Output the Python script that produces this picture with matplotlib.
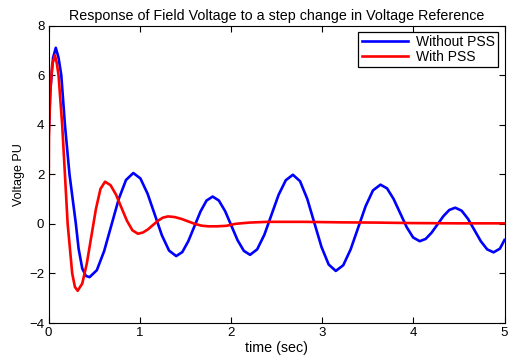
import matplotlib
matplotlib.use("Agg")
import matplotlib.pyplot as plt

plt.rcParams['font.family'] = ['Liberation Sans', 'DejaVu Sans']

title = "Response of Field Voltage to a step change in Voltage Reference"
xlabel = "time (sec)"
ylabel = "Voltage PU"
series_names = ["Without PSS", "With PSS"]

t_without = [0.0, 0.02, 0.05, 0.08, 0.11, 0.14, 0.18, 0.23, 0.265, 0.30, 0.33, 0.37, 0.41, 0.45,
             0.53, 0.61, 0.69, 0.77, 0.85, 0.93,
             1.008, 1.087, 1.165, 1.243, 1.322, 1.40,
             1.467, 1.533, 1.60, 1.667, 1.733, 1.80,
             1.868, 1.937, 2.005, 2.073, 2.142, 2.21,
             2.288, 2.367, 2.445, 2.523, 2.602, 2.68,
             2.758, 2.837, 2.915, 2.993, 3.072, 3.15,
             3.232, 3.313, 3.395, 3.477, 3.558, 3.64,
             3.712, 3.783, 3.855, 3.927, 3.998, 4.07,
             4.135, 4.20, 4.265, 4.33, 4.395, 4.46,
             4.53, 4.60, 4.67, 4.74, 4.81, 4.88,
             4.95, 5.0]
v_without = [3.5, 5.4, 6.7, 7.1, 6.7, 6.0, 4.0, 2.0, 1.0, 0.0, -1.0, -1.8, -2.1, -2.15,
             -1.87, -1.10, -0.05, 1.00, 1.77, 2.05,
             1.83, 1.21, 0.375, -0.46, -1.08, -1.3,
             -1.14, -0.70, -0.1, 0.5, 0.94, 1.1,
             0.94, 0.51, -0.075, -0.66, -1.09, -1.25,
             -1.03, -0.44, 0.365, 1.17, 1.76, 1.98,
             1.72, 1.01, 0.04, -0.93, -1.64, -1.9,
             -1.67, -1.03, -0.16, 0.71, 1.35, 1.58,
             1.43, 1.01, 0.44, -0.13, -0.55, -0.7,
             -0.61, -0.36, -0.025, 0.31, 0.56, 0.65,
             0.53, 0.20, -0.25, -0.70, -1.03, -1.15,
             -1.0, -0.65]

t_with = [0.0, 0.005, 0.02, 0.04, 0.07, 0.09, 0.11, 0.15, 0.18, 0.21, 0.26, 0.29, 0.32,
          0.37, 0.42, 0.47, 0.52, 0.57, 0.62,
          0.68, 0.74, 0.80, 0.86, 0.92, 0.98,
          1.035, 1.09, 1.145, 1.20, 1.255, 1.31,
          1.383, 1.457, 1.53, 1.603, 1.677, 1.75,
          1.85, 1.95, 2.05, 2.2, 2.4, 2.8, 3.2, 3.6, 4.0, 4.5, 5.0]
v_with = [0.0, 3.5, 5.3, 6.4, 6.8, 6.5, 6.0, 4.0, 2.0, 0.0, -2.0, -2.55, -2.7,
          -2.41, -1.6, -0.5, 0.6, 1.41, 1.7,
          1.56, 1.18, 0.65, 0.125, -0.26, -0.4,
          -0.35, -0.225, -0.05, 0.125, 0.25, 0.3,
          0.273, 0.2, 0.1, 0.0, -0.073, -0.1,
          -0.1, -0.08, 0.0, 0.05, 0.08, 0.08, 0.06, 0.05, 0.03, 0.02, 0.02]

xticks = [0, 1, 2, 3, 4, 5]
yticks = [-4, -2, 0, 2, 4, 6, 8]

fig = plt.figure(figsize=(5.08, 3.61), dpi=100)
ax = fig.add_axes([48.5 / 508, 1 - 323 / 361, 456 / 508, 297.5 / 361])

ax.plot(t_without, v_without, color=(0, 0, 1), lw=1.9, label=series_names[0])
ax.plot(t_with, v_with, color=(1, 0, 0), lw=1.9, label=series_names[1])

ax.set_xlim(0, 5)
ax.set_ylim(-4, 8)
ax.set_xticks(xticks)
ax.set_yticks(yticks)
ax.tick_params(direction='in', top=True, right=True, length=4, width=0.8,
               labelsize=9.5, pad=3)
for s in ax.spines.values():
    s.set_linewidth(0.8)

ax.set_title(title, fontsize=10.3, pad=4)
ax.set_xlabel(xlabel, fontsize=10.3, labelpad=1)
ax.set_ylabel(ylabel, fontsize=9, labelpad=3)

leg = ax.legend(loc='upper right', fontsize=10, frameon=True, fancybox=False,
                borderaxespad=0.45, handlelength=3.3, handletextpad=0.6,
                borderpad=0.25, labelspacing=0.05)
leg.get_frame().set_edgecolor('black')
leg.get_frame().set_linewidth(0.9)
leg.get_frame().set_alpha(1)

fig.savefig("out.png", dpi=100)
